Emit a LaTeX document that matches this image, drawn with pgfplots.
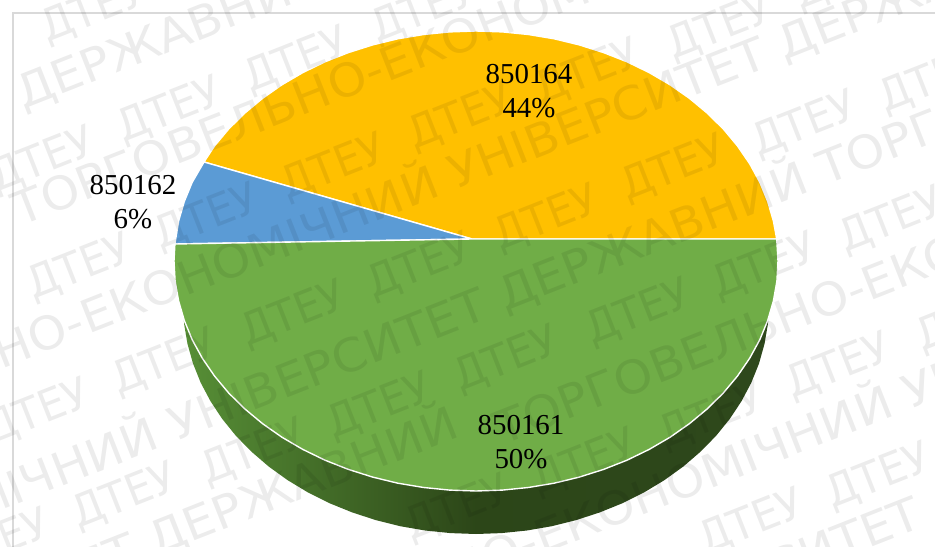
\documentclass[border=0pt]{standalone}
\usepackage{fontspec}
\usepackage{pgfplots}
\pgfplotsset{compat=1.18}
\setmainfont{Liberation Serif}
\newfontfamily\wmfont[FakeStretch=1.07]{DejaVu Sans}
\newfontfamily\wmshort[FakeStretch=0.95]{DejaVu Sans}
\definecolor{slYellow}{HTML}{FFC000}
\definecolor{slBlue}{HTML}{5B9BD5}
\definecolor{slGreen}{HTML}{70AD47}
\definecolor{sideL}{HTML}{578F36}
\definecolor{sideM}{HTML}{2C4618}
\definecolor{sideR}{HTML}{2E481C}
\definecolor{frameGrey}{HTML}{D9D9D9}
% watermark line: point is where the left and right part meet
\tikzset{wm/.style={rotate=21.5,text opacity=0.075,inner sep=0pt,text=black,
    font=\wmfont\fontsize{46}{46}\selectfont}}
\newcommand\wm[4]{%
  \node[wm,anchor=base east] at (axis cs:#1,#2) {#3};
  \node[wm,anchor=base west] at (axis cs:#1,#2) {#4};}
\newcommand\wmt[2]{\node[wm,anchor=base west,font=\wmshort\fontsize{44}{44}\selectfont] at (axis cs:#1,#2) {ДТЕУ};}
\begin{document}
\begin{tikzpicture}
\clip[use as bounding box] (0,0) rectangle (935bp,547bp);
\begin{axis}[
  hide axis,scale only axis,width=935bp,height=547bp,
  xmin=0,xmax=935,ymin=0,ymax=547,y dir=reverse,
]
% frame
\draw[frameGrey,line width=1.5pt] (axis cs:13,547) -- (axis cs:13,13) -- (axis cs:935,13);
% side of the disc
\addplot[draw=none,left color=sideL,right color=sideR,middle color=sideM] coordinates {
(183,304)(184.1,324.1)(187.5,343.9)(193,363.5)(200.7,382.7)(210.5,401.2)(222.3,419)(236,435.9)
(251.6,451.8)(268.8,466.6)(287.7,480.2)(307.9,492.4)(329.5,503.2)(352.2,512.4)(375.8,520.1)
(400.2,526.2)(425.1,530.5)(450.5,533.1)(476,534)(501.5,533.1)(526.9,530.5)(551.8,526.2)
(576.2,520.1)(599.8,512.4)(622.5,503.2)(644.1,492.4)(664.3,480.2)(683.2,466.6)(700.4,451.8)
(716,435.9)(729.7,419)(741.5,401.2)(751.3,382.7)(759,363.5)(764.5,343.9)(767.9,324.1)(769,304)
(183,304)};
% 850164
\addplot[fill=slYellow,draw=white,line width=1.4pt,line join=round] coordinates {
(472,239)(776.7,239)(773.4,221.1)(767.7,201.5)(759.8,182.3)(749.7,163.8)(737.5,146)(723.4,129.1)
(707.3,113.2)(689.5,98.4)(670.1,84.8)(649.2,72.6)(627,61.8)(603.6,52.6)(579.3,44.9)(554.2,38.8)
(528.4,34.5)(502.3,31.9)(476,31)(449.7,31.9)(423.6,34.5)(397.8,38.8)(372.7,44.9)(348.4,52.6)
(325,61.8)(302.8,72.6)(281.9,84.8)(262.5,98.4)(244.7,113.2)(228.6,129.1)(214.5,146)(204,162)
(472,239)};
% 850162
\addplot[fill=slBlue,draw=white,line width=1.4pt,line join=round] coordinates {
(472,239)(204,162)(192.2,182.3)(184.3,201.5)(178.6,221.1)(174.9,244)(472,239)};
% 850161
\addplot[fill=slGreen,draw=white,line width=1.4pt,line join=round] coordinates {
(472,239)(174.9,244)(174,261)(175.1,281.1)(178.6,300.9)(184.3,320.5)(192.2,339.7)(202.3,358.2)
(214.5,376)(228.6,392.9)(244.7,408.8)(262.5,423.6)(281.9,437.2)(302.8,449.4)(325,460.2)
(348.4,469.4)(372.7,477.1)(397.8,483.2)(423.6,487.5)(449.7,490.1)(476,491)(502.3,490.1)
(528.4,487.5)(554.2,483.2)(579.3,477.1)(603.6,469.4)(627,460.2)(649.2,449.4)(670.1,437.2)
(689.5,423.6)(707.3,408.8)(723.4,392.9)(737.5,376)(749.7,358.2)(759.8,339.7)(767.7,320.5)
(773.4,300.9)(776.9,281.1)(778,261)(776.7,239)(472,239)};
% labels
\node[align=center,inner sep=0pt,font=\fontsize{29}{33.5}\selectfont] at (axis cs:529,91) {850164\\44\%};
\node[align=center,inner sep=0pt,font=\fontsize{29}{33.5}\selectfont] at (axis cs:133,202) {850162\\6\%};
\node[align=center,inner sep=0pt,font=\fontsize{29}{33.5}\selectfont] at (axis cs:521,442) {850161\\50\%};
% watermark, long lines
\wm{23}{110}{}{ДЕРЖАВНИЙ ТОРГОВЕЛЬНО}
\wm{20}{227}{ДЕРЖАВНИЙ\kern16pt}{ТОРГОВЕЛЬНО-ЕКОНОМІЧНИЙ УНІВЕРСИТЕТ}
\wm{88}{335}{ТОРГОВЕЛЬНО-}{ЕКОНОМІЧНИЙ УНІВЕРСИТЕТ ДЕРЖАВНИЙ ТОРГОВЕЛЬНО}
\wm{505}{312}{ЕКОНОМІЧНИЙ УНІВЕРСИТЕТ\kern16pt}{ДЕРЖАВНИЙ ТОРГОВЕЛЬНО-ЕКОНОМІЧНИЙ}
\wm{155}{557}{ЕКОНОМІЧНИЙ УНІВЕРСИТЕТ\kern16pt}{ДЕРЖАВНИЙ}
\wm{502}{446}{}{ТОРГОВЕЛЬНО-ЕКОНОМІЧНИЙ}
\wm{542}{555}{ТОРГОВЕЛЬНО-}{ЕКОНОМІЧНИЙ УНІВЕРСИТЕТ}
\wm{925}{526}{ЕКОНОМІЧНИЙ УНІВЕРСИТЕТ}{}
% watermark, short lines
\wmt{47}{43}\wmt{174}{-7}
\wmt{-4}{193}\wmt{123}{143}\wmt{250}{93}\wmt{377}{43}\wmt{504}{-7}
\wmt{33}{300}\wmt{160}{250}\wmt{287}{200}\wmt{414}{150}\wmt{541}{105}\wmt{673}{60}\wmt{800}{10}
\wmt{-9}{445}\wmt{118}{395}\wmt{247}{347}\wmt{373}{299}\wmt{500}{251}\wmt{627}{201}\wmt{758}{157}\wmt{885}{113}
\wmt{-49}{575}\wmt{78}{529}\wmt{207}{485}\wmt{333}{439}\wmt{460}{392}\wmt{592}{345}\wmt{718}{299}\wmt{845}{253}
\wmt{411}{541}\wmt{538}{495}\wmt{665}{449}\wmt{792}{399}\wmt{922}{352}
\wmt{705}{555}\wmt{832}{509}\wmt{959}{459}
\end{axis}
\end{tikzpicture}
\end{document}
